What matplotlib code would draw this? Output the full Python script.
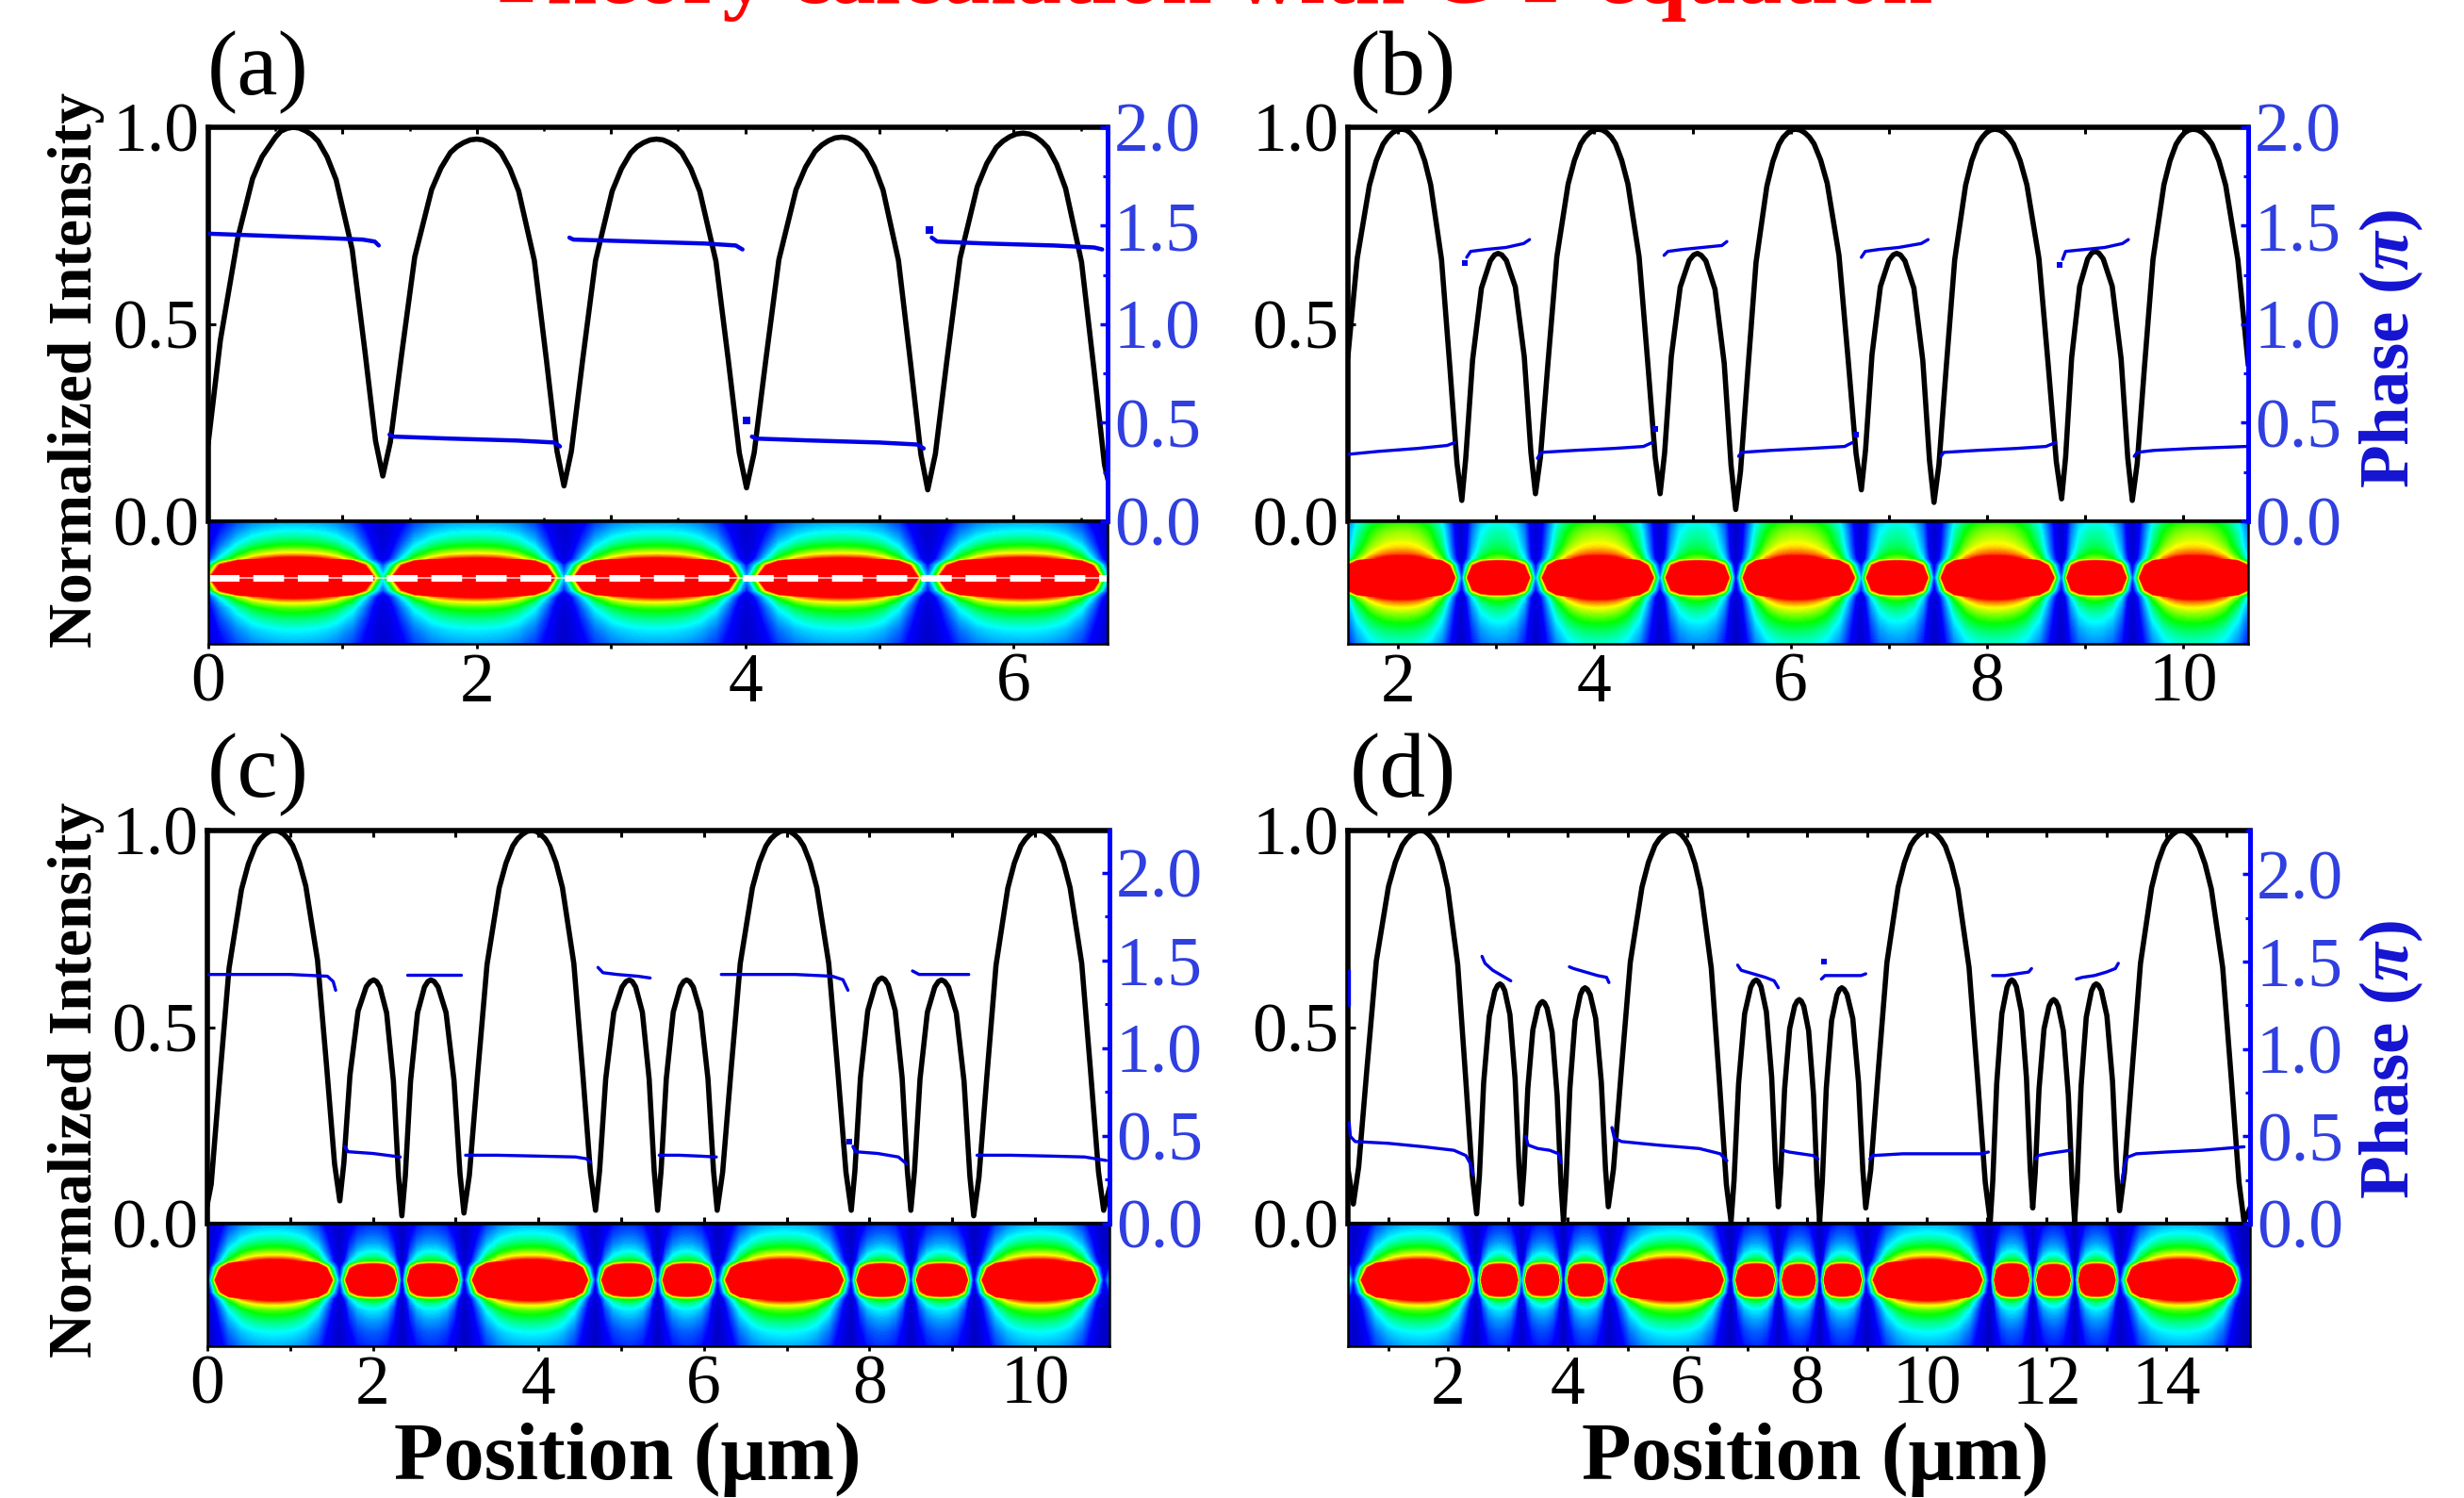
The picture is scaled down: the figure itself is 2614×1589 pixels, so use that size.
import numpy as np
import matplotlib
matplotlib.use("Agg")
import matplotlib.pyplot as plt
from matplotlib.colors import LinearSegmentedColormap
from matplotlib.ticker import MultipleLocator, FormatStrFormatter

plt.rcParams['font.family'] = ['Liberation Serif', 'DejaVu Serif']
plt.rcParams['mathtext.fontset'] = 'custom'
plt.rcParams['mathtext.rm'] = 'Liberation Serif'
plt.rcParams['mathtext.bf'] = 'Liberation Serif:bold'
plt.rcParams['mathtext.it'] = 'Liberation Serif:italic'
has_bfit = 'mathtext.bfit' in plt.rcParams
if has_bfit:
    plt.rcParams['mathtext.bfit'] = 'Liberation Serif:italic:bold'

# === Panel (a): intensity ===
x_a = [0.00, 0.09, 0.22, 0.33, 0.40, 0.45, 0.50, 0.54, 0.585, 0.63, 0.677, 0.724, 0.771, 0.818, 0.885, 0.952, 1.072, 1.166, 1.246, 1.30,
       1.356, 1.44, 1.538, 1.664, 1.734, 1.804, 1.853, 1.902, 1.951, 2.00, 2.046, 2.091, 2.137, 2.182, 2.247, 2.312, 2.429, 2.52, 2.598, 2.65,
       2.705, 2.788, 2.885, 3.009, 3.078, 3.147, 3.195, 3.243, 3.292, 3.34, 3.387, 3.434, 3.481, 3.528, 3.595, 3.662, 3.782, 3.876, 3.956, 4.01,
       4.067, 4.152, 4.251, 4.379, 4.45, 4.521, 4.571, 4.621, 4.67, 4.72, 4.765, 4.81, 4.854, 4.899, 4.963, 5.027, 5.142, 5.232, 5.309, 5.36,
       5.417, 5.502, 5.601, 5.729, 5.80, 5.871, 5.921, 5.971, 6.02, 6.07, 6.116, 6.162, 6.209, 6.255, 6.321, 6.387, 6.506, 6.598, 6.677, 6.70]
int_a = [0.20, 0.46, 0.72, 0.87, 0.925, 0.95, 0.975, 0.99, 0.997, 1.00, 0.998, 0.991, 0.981, 0.965, 0.925, 0.867, 0.69, 0.434, 0.204, 0.115,
         0.201, 0.423, 0.671, 0.842, 0.897, 0.936, 0.951, 0.961, 0.968, 0.97, 0.968, 0.961, 0.951, 0.935, 0.895, 0.838, 0.662, 0.407, 0.178, 0.09,
         0.178, 0.407, 0.662, 0.838, 0.895, 0.935, 0.951, 0.961, 0.968, 0.97, 0.968, 0.961, 0.951, 0.935, 0.895, 0.837, 0.66, 0.404, 0.174, 0.085,
         0.174, 0.405, 0.664, 0.842, 0.899, 0.939, 0.955, 0.966, 0.973, 0.975, 0.973, 0.966, 0.955, 0.939, 0.899, 0.841, 0.662, 0.402, 0.17, 0.08,
         0.171, 0.406, 0.668, 0.849, 0.908, 0.949, 0.965, 0.976, 0.983, 0.985, 0.983, 0.976, 0.964, 0.948, 0.906, 0.845, 0.658, 0.387, 0.144, 0.11]

# === Panel (b) ===
x_b = [1.49, 1.585, 1.709, 1.778, 1.847, 1.895, 1.943, 1.992, 2.04, 2.083, 2.125, 2.168, 2.211, 2.272, 2.333, 2.443, 2.528, 2.601, 2.65,
       2.69, 2.76, 2.85, 2.94, 2.983, 3.02, 3.058, 3.104, 3.195, 3.286, 3.354, 3.40,
       3.451, 3.528, 3.618, 3.733, 3.797, 3.861, 3.906, 3.95, 3.995, 4.04, 4.084, 4.128, 4.172, 4.216, 4.279, 4.342, 4.456, 4.544, 4.62, 4.67,
       4.716, 4.784, 4.875, 4.966, 5.012, 5.05, 5.089, 5.136, 5.229, 5.323, 5.393, 5.44,
       5.489, 5.562, 5.647, 5.757, 5.818, 5.879, 5.922, 5.965, 6.007, 6.05, 6.097, 6.144, 6.191, 6.238, 6.305, 6.372, 6.492, 6.586, 6.666, 6.72,
       6.763, 6.828, 6.914, 7.001, 7.044, 7.08, 7.118, 7.164, 7.255, 7.346, 7.414, 7.46,
       7.51, 7.584, 7.671, 7.782, 7.844, 7.906, 7.95, 7.993, 8.037, 8.08, 8.128, 8.175, 8.223, 8.27, 8.338, 8.406, 8.529, 8.624, 8.706, 8.76,
       8.801, 8.862, 8.944, 9.025, 9.066, 9.10, 9.138, 9.184, 9.275, 9.366, 9.434, 9.48,
       9.53, 9.604, 9.691, 9.802, 9.864, 9.926, 9.97, 10.013, 10.057, 10.10, 10.148, 10.197, 10.245, 10.293, 10.362, 10.431, 10.555, 10.66]
int_b = [0.42, 0.668, 0.853, 0.915, 0.957, 0.974, 0.986, 0.993, 0.995, 0.993, 0.986, 0.974, 0.957, 0.915, 0.854, 0.665, 0.392, 0.147, 0.053,
         0.16, 0.41, 0.592, 0.661, 0.676, 0.68, 0.676, 0.662, 0.595, 0.418, 0.174, 0.07,
         0.163, 0.403, 0.671, 0.856, 0.916, 0.958, 0.975, 0.986, 0.993, 0.995, 0.993, 0.986, 0.975, 0.958, 0.916, 0.856, 0.671, 0.403, 0.163, 0.07,
         0.174, 0.418, 0.595, 0.662, 0.676, 0.68, 0.675, 0.661, 0.589, 0.401, 0.141, 0.03,
         0.127, 0.377, 0.657, 0.85, 0.913, 0.956, 0.974, 0.985, 0.993, 0.995, 0.993, 0.986, 0.975, 0.958, 0.917, 0.858, 0.675, 0.409, 0.172, 0.08,
         0.182, 0.422, 0.596, 0.662, 0.676, 0.68, 0.676, 0.661, 0.592, 0.408, 0.155, 0.048,
         0.143, 0.389, 0.664, 0.853, 0.915, 0.957, 0.974, 0.986, 0.993, 0.995, 0.993, 0.986, 0.974, 0.957, 0.915, 0.854, 0.667, 0.395, 0.151, 0.057,
         0.164, 0.415, 0.597, 0.666, 0.681, 0.685, 0.681, 0.666, 0.597, 0.413, 0.16, 0.053,
         0.147, 0.392, 0.665, 0.854, 0.915, 0.957, 0.974, 0.986, 0.993, 0.995, 0.993, 0.986, 0.974, 0.957, 0.915, 0.853, 0.664, 0.40]

# === Panel (c) ===
x_c = [0.00, 0.046, 0.146, 0.262, 0.412, 0.495, 0.578, 0.636, 0.694, 0.752, 0.81, 0.865, 0.921, 0.976, 1.031, 1.11, 1.189, 1.331, 1.442, 1.537, 1.60,
       1.649, 1.723, 1.821, 1.92, 1.969, 2.01, 2.044, 2.085, 2.166, 2.248, 2.309, 2.35,
       2.392, 2.455, 2.539, 2.623, 2.665, 2.70, 2.74, 2.788, 2.884, 2.98, 3.052, 3.10,
       3.166, 3.264, 3.379, 3.526, 3.608, 3.69, 3.748, 3.805, 3.863, 3.92, 3.974, 4.028, 4.082, 4.136, 4.213, 4.29, 4.428, 4.536, 4.628, 4.69,
       4.739, 4.813, 4.911, 5.01, 5.059, 5.10, 5.134, 5.175, 5.256, 5.338, 5.399, 5.44,
       5.482, 5.545, 5.629, 5.713, 5.755, 5.79, 5.827, 5.871, 5.96, 6.049, 6.116, 6.16,
       6.226, 6.324, 6.439, 6.586, 6.668, 6.75, 6.808, 6.865, 6.923, 6.98, 7.036, 7.092, 7.148, 7.204, 7.284, 7.364, 7.508, 7.62, 7.716, 7.78,
       7.824, 7.891, 7.98, 8.069, 8.113, 8.15, 8.185, 8.227, 8.311, 8.395, 8.458, 8.50,
       8.544, 8.611, 8.70, 8.789, 8.833, 8.87, 8.909, 8.956, 9.049, 9.143, 9.213, 9.26,
       9.323, 9.418, 9.529, 9.671, 9.75, 9.829, 9.884, 9.939, 9.995, 10.05, 10.105, 10.159, 10.214, 10.268, 10.346, 10.424, 10.565, 10.674, 10.768, 10.83, 10.90]
int_c = [0.05, 0.10, 0.36, 0.65, 0.85, 0.915, 0.96, 0.978, 0.99, 0.998, 1.00, 0.998, 0.991, 0.979, 0.962, 0.92, 0.859, 0.67, 0.397, 0.152, 0.058,
         0.154, 0.378, 0.541, 0.603, 0.616, 0.62, 0.616, 0.602, 0.536, 0.362, 0.122, 0.02,
         0.122, 0.362, 0.536, 0.602, 0.616, 0.62, 0.616, 0.602, 0.537, 0.365, 0.128, 0.027,
         0.124, 0.377, 0.659, 0.854, 0.917, 0.961, 0.979, 0.99, 0.998, 1.00, 0.998, 0.99, 0.979, 0.961, 0.918, 0.855, 0.662, 0.382, 0.131, 0.034,
         0.134, 0.368, 0.538, 0.602, 0.616, 0.62, 0.616, 0.602, 0.538, 0.368, 0.134, 0.034,
         0.134, 0.368, 0.538, 0.602, 0.616, 0.62, 0.616, 0.602, 0.538, 0.368, 0.134, 0.034,
         0.131, 0.382, 0.662, 0.855, 0.918, 0.961, 0.979, 0.99, 0.998, 1.00, 0.998, 0.99, 0.979, 0.961, 0.918, 0.855, 0.662, 0.382, 0.131, 0.034,
         0.134, 0.371, 0.542, 0.607, 0.621, 0.625, 0.621, 0.607, 0.542, 0.371, 0.134, 0.034,
         0.134, 0.368, 0.538, 0.602, 0.616, 0.62, 0.616, 0.602, 0.536, 0.362, 0.122, 0.02,
         0.118, 0.373, 0.657, 0.853, 0.917, 0.961, 0.978, 0.99, 0.998, 1.00, 0.998, 0.99, 0.979, 0.961, 0.918, 0.855, 0.662, 0.382, 0.131, 0.034, 0.09]

# === Panel (d) ===
x_d = [0.33, 0.42,
       0.51, 0.646, 0.804, 1.008, 1.121, 1.234, 1.313, 1.392, 1.471, 1.55, 1.615, 1.68, 1.745, 1.81, 1.903, 1.996, 2.164, 2.294, 2.406, 2.48,
       2.527, 2.597, 2.691, 2.784, 2.831, 2.87, 2.906, 2.949, 3.036, 3.122, 3.187, 3.23,
       3.272, 3.335, 3.419, 3.503, 3.545, 3.58, 3.615, 3.657, 3.741, 3.825, 3.888, 3.93,
       3.973, 4.038, 4.124, 4.211, 4.254, 4.29, 4.329, 4.376, 4.469, 4.563, 4.633, 4.68,
       4.766, 4.896, 5.047, 5.242, 5.35, 5.458, 5.533, 5.609, 5.684, 5.76, 5.828, 5.896, 5.964, 6.032, 6.129, 6.226, 6.40, 6.536, 6.652, 6.73,
       6.78, 6.856, 6.957, 7.058, 7.108, 7.15, 7.187, 7.231, 7.32, 7.409, 7.476, 7.52,
       7.562, 7.625, 7.709, 7.793, 7.835, 7.87, 7.904, 7.945, 8.026, 8.108, 8.169, 8.21,
       8.254, 8.321, 8.41, 8.499, 8.543, 8.58, 8.62, 8.668, 8.764, 8.86, 8.932, 8.98,
       9.063, 9.188, 9.334, 9.521, 9.625, 9.729, 9.802, 9.874, 9.947, 10.02, 10.093, 10.166, 10.238, 10.311, 10.415, 10.519, 10.706, 10.852, 10.977, 11.06,
       11.103, 11.168, 11.254, 11.341, 11.384, 11.42, 11.455, 11.497, 11.581, 11.665, 11.728, 11.77,
       11.812, 11.875, 11.959, 12.043, 12.085, 12.12, 12.155, 12.197, 12.281, 12.365, 12.428, 12.47,
       12.513, 12.578, 12.664, 12.751, 12.794, 12.83, 12.869, 12.916, 13.009, 13.103, 13.173, 13.22,
       13.302, 13.426, 13.57, 13.756, 13.859, 13.962, 14.034, 14.106, 14.178, 14.25, 14.323, 14.397, 14.47, 14.544, 14.649, 14.754, 14.943, 15.09, 15.216, 15.30, 15.40]
int_d = [0.14, 0.05,
         0.145, 0.392, 0.668, 0.858, 0.919, 0.962, 0.979, 0.991, 0.998, 1.00, 0.998, 0.99, 0.979, 0.961, 0.917, 0.854, 0.659, 0.376, 0.123, 0.025,
         0.124, 0.358, 0.528, 0.592, 0.606, 0.61, 0.606, 0.593, 0.532, 0.369, 0.145, 0.05,
         0.138, 0.344, 0.493, 0.55, 0.561, 0.565, 0.561, 0.548, 0.487, 0.325, 0.102, 0.007,
         0.108, 0.345, 0.517, 0.582, 0.596, 0.60, 0.596, 0.583, 0.522, 0.36, 0.138, 0.043,
         0.139, 0.388, 0.665, 0.856, 0.919, 0.962, 0.979, 0.99, 0.998, 1.00, 0.998, 0.99, 0.978, 0.96, 0.915, 0.85, 0.65, 0.36, 0.10, 0.005,
         0.11, 0.356, 0.534, 0.602, 0.616, 0.62, 0.616, 0.603, 0.539, 0.372, 0.141, 0.043,
         0.133, 0.343, 0.496, 0.554, 0.566, 0.57, 0.566, 0.553, 0.491, 0.327, 0.101, 0.005,
         0.106, 0.344, 0.517, 0.582, 0.596, 0.60, 0.596, 0.583, 0.522, 0.359, 0.135, 0.04,
         0.136, 0.386, 0.664, 0.856, 0.918, 0.962, 0.979, 0.99, 0.998, 1.00, 0.998, 0.99, 0.978, 0.96, 0.915, 0.851, 0.652, 0.363, 0.105, 0.005,
         0.11, 0.356, 0.534, 0.602, 0.616, 0.62, 0.616, 0.603, 0.539, 0.371, 0.139, 0.04,
         0.13, 0.342, 0.496, 0.554, 0.566, 0.57, 0.566, 0.553, 0.491, 0.327, 0.101, 0.005,
         0.108, 0.35, 0.525, 0.592, 0.606, 0.61, 0.606, 0.593, 0.529, 0.362, 0.131, 0.033,
         0.13, 0.381, 0.662, 0.855, 0.918, 0.961, 0.979, 0.99, 0.998, 1.00, 0.998, 0.99, 0.978, 0.96, 0.915, 0.851, 0.652, 0.363, 0.105, 0.005, 0.04]

# === Phase segments (units of pi) ===
phx_a = [[0.00, 0.40, 0.80, 1.15, 1.24, 1.27], [1.35, 1.38, 1.80, 2.30, 2.58, 2.62],
         [2.69, 2.72, 3.20, 3.70, 3.93, 3.98], [4.05, 4.08, 4.50, 5.00, 5.28, 5.33],
         [5.39, 5.43, 5.80, 6.30, 6.60, 6.66]]
phy_a = [[1.46, 1.45, 1.44, 1.43, 1.42, 1.40], [0.44, 0.43, 0.42, 0.41, 0.40, 0.38],
         [1.44, 1.43, 1.42, 1.41, 1.40, 1.38], [0.43, 0.42, 0.41, 0.40, 0.39, 0.37],
         [1.44, 1.42, 1.41, 1.40, 1.39, 1.38]]
dotx_a, doty_a = [4.01, 5.37], [0.51, 1.48]

phx_b = [[1.49, 1.80, 2.20, 2.50, 2.58], [2.70, 2.74, 2.90, 3.10, 3.28, 3.34],
         [3.42, 3.46, 3.80, 4.20, 4.50, 4.59], [4.71, 4.75, 4.90, 5.10, 5.30, 5.35],
         [5.47, 5.50, 5.80, 6.20, 6.55, 6.63], [6.72, 6.76, 6.90, 7.10, 7.33, 7.40],
         [7.53, 7.56, 7.90, 8.30, 8.60, 8.70], [8.77, 8.80, 9.00, 9.20, 9.38, 9.44],
         [9.50, 9.53, 9.70, 10.10, 10.64]]
phy_b = [[0.34, 0.355, 0.37, 0.385, 0.40], [1.34, 1.37, 1.38, 1.39, 1.41, 1.43],
         [0.32, 0.35, 0.36, 0.37, 0.38, 0.40], [1.35, 1.37, 1.38, 1.39, 1.40, 1.42],
         [0.33, 0.35, 0.36, 0.37, 0.38, 0.40], [1.34, 1.37, 1.38, 1.39, 1.41, 1.43],
         [0.33, 0.35, 0.36, 0.37, 0.38, 0.40], [1.33, 1.37, 1.38, 1.39, 1.41, 1.43],
         [0.33, 0.35, 0.36, 0.37, 0.38]]
dotx_b, doty_b = [4.62, 6.67, 2.68, 8.74], [0.47, 0.44, 1.31, 1.30]

phx_c = [[0.00, 0.50, 1.00, 1.45, 1.52, 1.55], [1.66, 1.70, 2.00, 2.33],
         [2.42, 2.60, 2.90, 3.06], [3.12, 3.50, 4.00, 4.45, 4.58, 4.63],
         [4.72, 4.78, 4.95, 5.20, 5.35], [5.46, 5.70, 5.95, 6.15],
         [6.21, 6.60, 7.10, 7.55, 7.68, 7.74], [7.80, 7.83, 8.10, 8.35, 8.45],
         [8.52, 8.60, 8.90, 9.20], [9.30, 9.70, 10.20, 10.60, 10.86]]
phy_c = [[1.42, 1.42, 1.42, 1.41, 1.38, 1.33], [0.44, 0.41, 0.40, 0.38],
         [1.42, 1.42, 1.42, 1.42], [0.39, 0.39, 0.385, 0.38, 0.37, 0.35],
         [1.46, 1.43, 1.42, 1.41, 1.40], [0.39, 0.39, 0.385, 0.38],
         [1.42, 1.42, 1.42, 1.41, 1.39, 1.33], [0.44, 0.41, 0.40, 0.38, 0.34],
         [1.44, 1.42, 1.42, 1.42], [0.39, 0.39, 0.385, 0.38, 0.36]]
dotx_c, doty_c = [7.76], [0.47]

phx_d = [[0.34, 0.34], [0.35, 0.37, 0.45, 1.00, 1.60, 2.10, 2.30, 2.38, 2.42],
         [2.57, 2.62, 2.75, 2.90, 3.00, 3.05], [3.30, 3.34, 3.50, 3.70, 3.85, 3.89],
         [4.03, 4.10, 4.30, 4.50, 4.65, 4.69], [4.74, 4.78, 4.90, 5.50, 6.20, 6.55, 6.66],
         [6.84, 6.90, 7.10, 7.30, 7.45, 7.52], [7.59, 7.70, 7.90, 8.10, 8.18],
         [8.24, 8.30, 8.50, 8.70, 8.90, 8.98], [9.05, 9.10, 9.60, 10.30, 10.90, 11.03],
         [11.10, 11.30, 11.50, 11.70, 11.75], [11.82, 11.86, 12.00, 12.20, 12.40],
         [12.50, 12.60, 12.80, 13.00, 13.15, 13.20], [13.26, 13.30, 13.35, 13.50, 14.00, 14.60, 15.30]]
phy_d = [[1.25, 1.45], [0.58, 0.50, 0.47, 0.46, 0.44, 0.42, 0.39, 0.34, 0.28],
         [1.53, 1.49, 1.45, 1.42, 1.40, 1.39], [0.50, 0.45, 0.43, 0.42, 0.40, 0.35],
         [1.47, 1.46, 1.44, 1.42, 1.41, 1.38], [0.55, 0.49, 0.47, 0.45, 0.43, 0.40, 0.36],
         [1.48, 1.45, 1.43, 1.41, 1.39, 1.35], [0.42, 0.41, 0.40, 0.39, 0.37],
         [1.40, 1.42, 1.42, 1.42, 1.42, 1.43], [0.37, 0.39, 0.40, 0.40, 0.40, 0.41],
         [1.42, 1.42, 1.43, 1.44, 1.46], [0.37, 0.39, 0.40, 0.41, 0.42],
         [1.40, 1.41, 1.42, 1.44, 1.46, 1.49], [0.24, 0.33, 0.38, 0.40, 0.41, 0.42, 0.44]]
dotx_d, doty_d = [8.28], [1.50]

# === Transverse profile of the field maps (top -> bottom of the strip) ===
prof_pos = [0.0, 0.08, 0.16, 0.22, 0.27, 0.31, 0.36, 0.46, 0.56, 0.61, 0.65, 0.70, 0.78, 0.88, 1.0]
prof_acd = [0.36, 0.45, 0.57, 0.70, 0.86, 1.05, 2.2, 4.0, 2.2, 1.05, 0.86, 0.70, 0.57, 0.45, 0.36]
prof_b = [0.66, 0.74, 0.80, 0.86, 0.95, 1.08, 2.2, 4.0, 2.2, 1.08, 0.93, 0.82, 0.70, 0.58, 0.48]

BLUE = '#0000E6'
TICKBLUE = '#2F3FE0'
cmap = LinearSegmentedColormap.from_list(
    'fieldmap', [(0.0, '#0000C0'), (0.18, '#0000FF'), (0.45, '#00FFFF'), (0.64, '#00FF00'),
                 (0.82, '#FFFF00'), (0.91, '#FF8000'), (1.0, '#FF0000')])
cmap.set_over('#FF0000')

W, H = 2614, 1589
fig = plt.figure(figsize=(W / 100, H / 100), dpi=100)


def draw_panel(box, xlim, x, inten, phx, phy, dotx, doty, ph_top, prof, half_minor, ph_lw, dash=False):
    left, top, mid, bottom, right = box
    ax = fig.add_axes([left / W, 1 - mid / H, (right - left) / W, (mid - top) / H])
    axh = fig.add_axes([left / W, 1 - bottom / H, (right - left) / W, (bottom - mid) / H])

    ax.plot(x, inten, color='black', lw=4.0, solid_joinstyle='round', zorder=3)
    ax.set_xlim(xlim)
    ax.set_ylim(0, 1)
    ax.xaxis.set_major_locator(MultipleLocator(1))
    if half_minor:
        ax.xaxis.set_minor_locator(MultipleLocator(0.5))
    ax.yaxis.set_major_locator(MultipleLocator(0.5))
    ax.yaxis.set_major_formatter(FormatStrFormatter('%.1f'))
    ax.tick_params(axis='x', which='both', direction='in', top=True, bottom=True, labelbottom=False)
    ax.tick_params(axis='x', which='major', length=5, width=2.2)
    ax.tick_params(axis='x', which='minor', length=3, width=1.8)
    ax.tick_params(axis='y', direction='in', length=6, width=2.2, right=False, labelsize=53, pad=7)
    for s in ['left', 'top']:
        ax.spines[s].set_linewidth(4)
    ax.spines['bottom'].set_linewidth(3)
    ax.spines['right'].set_visible(False)

    ax2 = ax.twinx()
    for sx, sy in zip(phx, phy):
        ax2.plot(sx, sy, color=BLUE, lw=ph_lw, solid_capstyle='round')
    ax2.plot(dotx, doty, 's', color=BLUE, ms=ph_lw * 1.6, mew=0)
    ax2.set_ylim(0, ph_top)
    ax2.yaxis.set_major_locator(MultipleLocator(0.5))
    ax2.yaxis.set_minor_locator(MultipleLocator(0.25))
    ax2.yaxis.set_major_formatter(FormatStrFormatter('%.1f'))
    ax2.tick_params(axis='y', which='major', direction='in', length=6, width=2.5, color='#0000FF',
                    labelcolor=TICKBLUE, labelsize=53, pad=5)
    ax2.tick_params(axis='y', which='minor', direction='in', length=3.5, width=2.2, color='#0000FF')
    for s in ['left', 'top', 'bottom']:
        ax2.spines[s].set_visible(False)
    ax2.spines['right'].set_color('#0000FF')
    ax2.spines['right'].set_linewidth(3.6)

    field = np.outer(prof, inten)
    cs = axh.contourf(x, prof_pos, field, levels=np.linspace(0, 1, 101), cmap=cmap, extend='max')
    cs.set_edgecolor('face')
    cs.set_linewidth(0.4)
    if dash:
        axh.axhline(0.46, color='white', lw=1.2, alpha=0.8)
        axh.axhline(0.46, color='white', lw=5, dashes=(4.7, 2.1), dash_capstyle='butt')
    axh.set_xlim(xlim)
    axh.set_ylim(1, 0)
    axh.set_yticks([])
    axh.xaxis.set_major_locator(MultipleLocator(2))
    axh.xaxis.set_minor_locator(MultipleLocator(1))
    axh.tick_params(axis='x', which='both', direction='out', length=3.5, width=2, top=False,
                    labelsize=53, pad=3)
    for s in axh.spines.values():
        s.set_linewidth(1.8)
    return ax, axh


draw_panel((221, 135, 553, 683, 1175), (0, 6.70), x_a, int_a, phx_a, phy_a, dotx_a, doty_a,
           2.0, prof_acd, True, 3.2, dash=True)
draw_panel((1430, 135, 553, 683, 2385), (1.49, 10.66), x_b, int_b, phx_b, phy_b, dotx_b, doty_b,
           2.0, prof_b, False, 2.4)
draw_panel((220, 881, 1298, 1428, 1177), (0, 10.90), x_c, int_c, phx_c, phy_c, dotx_c, doty_c,
           2.24, prof_acd, False, 2.4)
draw_panel((1430, 881, 1298, 1428, 2387), (0.33, 15.40), x_d, int_d, phx_d, phy_d, dotx_d, doty_d,
           2.25, prof_acd, False, 2.4)

# === Texts ===
fig.text(1283 / W, 1 - 3 / H, 'Theory calculation with C-P equation', color='red',
         fontsize=69, fontweight='bold', ha='center', va='baseline')
for lab, lx, ly in [('(a)', 220, 100), ('(b)', 1432, 100), ('(c)', 220, 845), ('(d)', 1432, 845)]:
    fig.text(lx / W, 1 - ly / H, lab, fontsize=70, ha='left', va='baseline')
for cy in [392, 1145]:
    fig.text(81 / W, 1 - cy / H, 'Normalized Intensity', rotation=90, fontsize=47,
             fontweight='bold', ha='center', va='center')
phase_txt = r'Phase ($\mathbfit{\pi}$)' if has_bfit else 'Phase (\u03c0)'
for cy in [370, 1124]:
    fig.text(2537 / W, 1 - cy / H, phase_txt, rotation=90, fontsize=54, fontweight='bold',
             color='#1414D2', ha='center', va='center')
for cx in [666, 1926]:
    fig.text(cx / W, 1 - 1569 / H, 'Position (\u03bcm)', fontsize=62, fontweight='bold',
             ha='center', va='baseline')

fig.savefig('out.png', dpi=100)
